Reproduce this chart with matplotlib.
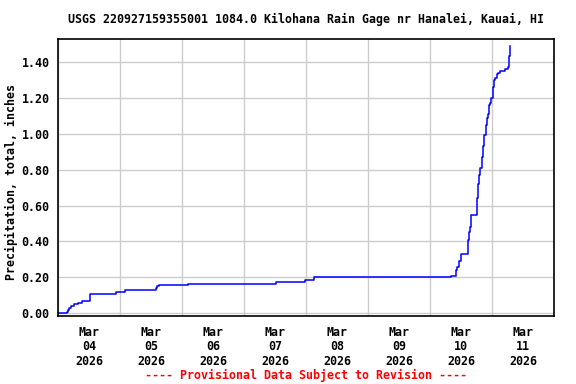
import numpy as np
import pandas as pd
import matplotlib
matplotlib.use("Agg")
import matplotlib.pyplot as plt

# =========================
# Data (hours since 2026-03-04 00:00, cumulative inches)
# =========================
hours = [0.0, 3.4, 3.9, 4.3, 4.9, 6.1, 7.8, 9.1, 12.2, 22.5, 25.9,
         37.9, 38.4, 39.0, 39.6, 50.5, 84.5, 95.6, 99.0,
         152.2, 154.1, 154.6, 155.2, 156.1, 158.6, 159.0, 159.3, 159.7, 160.0,
         162.1, 162.3, 162.7, 163.1, 163.5, 164.0, 164.3, 164.7, 165.0, 165.6,
         165.8, 166.2, 166.6, 166.9, 167.4, 167.7, 168.3, 168.7, 169.3, 169.8,
         170.4, 171.0, 173.1, 174.0, 174.4, 174.6, 175.0]
precip = [0.00, 0.01, 0.02, 0.03, 0.04, 0.05, 0.06, 0.07, 0.11, 0.12, 0.13,
          0.14, 0.15, 0.155, 0.16, 0.165, 0.175, 0.185, 0.20,
          0.21, 0.24, 0.26, 0.29, 0.33, 0.41, 0.45, 0.48, 0.50, 0.55,
          0.60, 0.64, 0.72, 0.77, 0.81, 0.82, 0.87, 0.93, 0.99, 1.00,
          1.05, 1.09, 1.11, 1.16, 1.17, 1.20, 1.26, 1.30, 1.31, 1.33,
          1.34, 1.35, 1.36, 1.37, 1.38, 1.43, 1.49]

start = pd.Timestamp("2026-03-04 00:00")
end = pd.Timestamp("2026-03-12 00:00")
times = start + pd.to_timedelta(hours, unit="h")

y_ticks = [0.0, 0.2, 0.4, 0.6, 0.8, 1.0, 1.2, 1.4]

title = "USGS 220927159355001 1084.0 Kilohana Rain Gage nr Hanalei, Kauai, HI"
ylabel = "Precipitation, total, inches"
footer = "---- Provisional Data Subject to Revision ----"
mono = "DejaVu Sans Mono"

# =========================
# Plot
# =========================
fig = plt.figure(figsize=(5.76, 3.84), dpi=100)
ax = fig.add_axes([58 / 576, 1 - 316 / 384, 496 / 576, 277 / 384])

ax.plot(times, precip, drawstyle="steps-post", color="#0000ff", linewidth=1.1)

ax.set_xlim(start, end)
ax.set_ylim(-0.015, 1.527)

days = pd.date_range(start, end, freq="D")
ax.set_xticks(days)
ax.set_xticklabels([])
noon = days[:-1] + pd.Timedelta(hours=12)
ax.set_xticks(noon, minor=True)
ax.set_xticklabels([d.strftime("%b\n%d\n%Y") for d in noon], minor=True,
                   family=mono, fontweight="bold", fontsize=8.4, linespacing=1.15)
ax.tick_params(axis="x", which="both", length=0, pad=7)

ax.set_yticks(y_ticks)
ax.set_yticklabels([f"{v:.2f}" for v in y_ticks], family=mono,
                   fontweight="bold", fontsize=8.4)
ax.tick_params(axis="y", length=0, pad=6)

ax.grid(True, which="major", color="#cccccc", linewidth=1.0)
ax.set_axisbelow(True)
for s in ax.spines.values():
    s.set_linewidth(1.2)
    s.set_color("black")

fig.text(11 / 576, 1 - 182 / 384, ylabel, rotation=90,
         ha="center", va="center", family=mono, fontweight="bold", fontsize=8.4)
fig.text(306 / 576, 1 - 19 / 384, title, ha="center", va="center",
         family=mono, fontweight="bold", fontsize=8.4)
fig.text(306 / 576, 1 - 375 / 384, footer, ha="center", va="center",
         family=mono, fontweight="bold", fontsize=8.4, color="red")

plt.savefig("out.png", dpi=100)
